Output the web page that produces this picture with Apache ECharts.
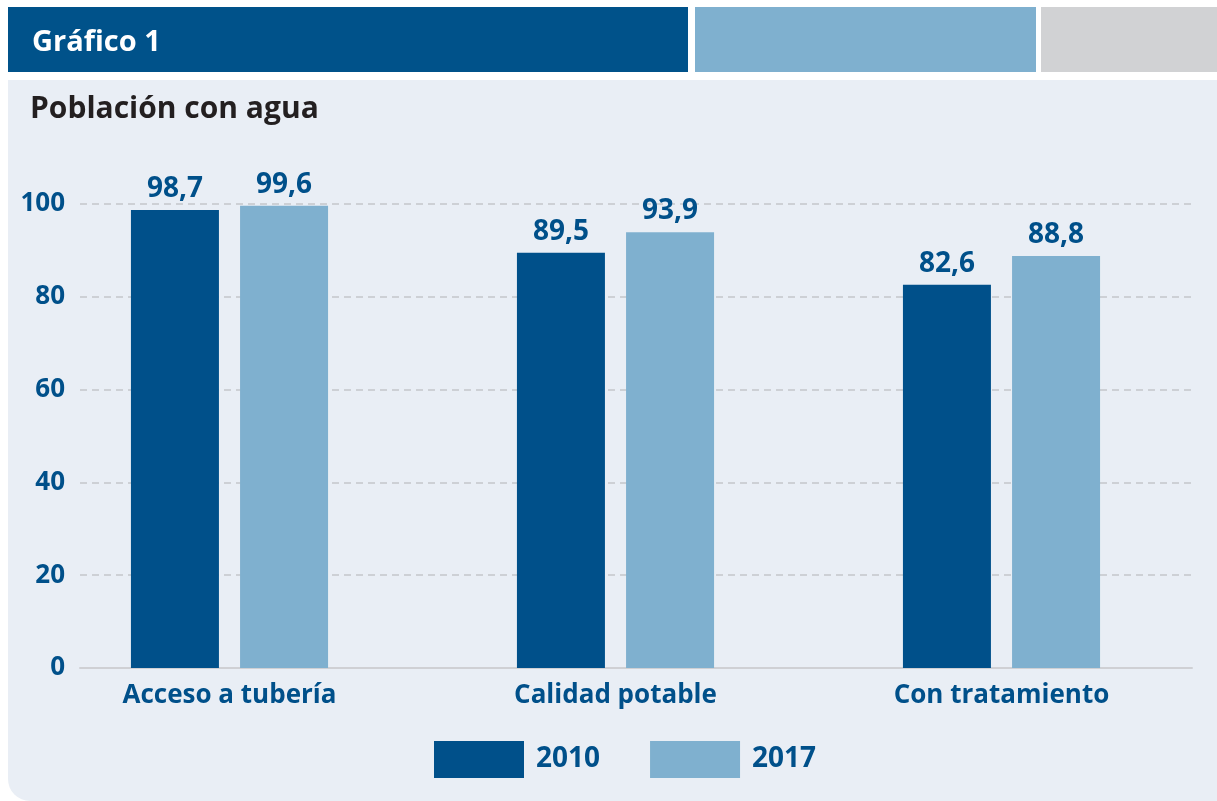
<!DOCTYPE html>
<html>
<head>
<meta charset="utf-8">
<script src="https://cdn.jsdelivr.net/npm/echarts@6/dist/echarts.min.js"></script>
<style>
  html, body { margin: 0; padding: 0; background: #fff; }
  #chart { width: 1217px; height: 801px; }
</style>
</head>
<body>
<div id="chart"></div>
<script>
// datos del gráfico
var categorias = ["Acceso a tubería", "Calidad potable", "Con tratamiento"];
var serie2010 = [98.7, 89.5, 82.6];
var serie2017 = [99.6, 93.9, 88.8];
var ticksY = [0, 20, 40, 60, 80, 100];

var azulOscuro = "#00508a";
var azulClaro = "#7fb0cf";
var fuente = "Open Sans";

var myChart = echarts.init(document.getElementById("chart"));

function etiqueta(p) {
  return String(p.value).replace(".", ",");
}

var option = {
  animation: false,
  backgroundColor: "#ffffff",
  textStyle: { fontFamily: fuente },
  graphic: [
    // barra de cabecera
    { type: "rect", shape: { x: 8, y: 7, width: 680, height: 65 }, style: { fill: "#00528a" }, z: -10 },
    { type: "rect", shape: { x: 695, y: 7, width: 341, height: 65 }, style: { fill: "#7fb0cf" }, z: -10 },
    { type: "rect", shape: { x: 1041, y: 7, width: 176, height: 65 }, style: { fill: "#d1d2d4" }, z: -10 },
    // panel de fondo
    { type: "rect", shape: { x: 8, y: 80, width: 1209, height: 721, r: [0, 0, 0, 22] }, style: { fill: "#e9eef5" }, z: -10 }
  ],
  title: [
    {
      text: "Gráfico 1",
      left: 27, top: 23,
      textStyle: { color: "#ffffff", fontSize: 29, fontWeight: "bold", fontFamily: fuente }
    },
    {
      text: "Población con agua",
      left: 25, top: 89,
      textStyle: { color: "#231f20", fontSize: 30, fontWeight: "bold", fontFamily: fuente }
    }
  ],
  legend: {
    data: ["2010", "2017"],
    left: 429, top: 736,
    itemWidth: 90, itemHeight: 37, itemGap: 50,
    icon: "rect",
    textStyle: { color: azulOscuro, fontSize: 28, fontWeight: "bold", fontFamily: fuente, padding: [0, 0, 0, 7] }
  },
  grid: [
    { left: 80, right: 25, top: 204, bottom: 133 },
    { left: 36.5, right: 22.5, top: 204, bottom: 133 }
  ],
  xAxis: [
    {
      gridIndex: 0, type: "category", data: categorias,
      axisLine: { show: true, lineStyle: { color: "#cfd0d4", width: 2 } },
      axisTick: { show: false }, axisLabel: { show: false }
    },
    {
      gridIndex: 1, type: "category", data: categorias,
      axisLine: { show: false }, axisTick: { show: false },
      axisLabel: { color: azulOscuro, fontSize: 26, fontWeight: "bold", fontFamily: fuente, margin: 15 }
    }
  ],
  yAxis: [
    {
      gridIndex: 0, type: "value", min: ticksY[0], max: ticksY[ticksY.length - 1], interval: 20,
      axisLine: { show: false }, axisTick: { show: false },
      axisLabel: { color: azulOscuro, fontSize: 26, fontWeight: "bold", fontFamily: fuente, margin: 15 },
      splitLine: { show: true, lineStyle: { color: "#cdd0d5", width: 2, type: [7, 5] } }
    },
    {
      gridIndex: 1, type: "value", min: ticksY[0], max: ticksY[ticksY.length - 1], interval: 20,
      show: false, splitLine: { show: false }
    }
  ],
  series: [
    {
      name: "2010", type: "bar", xAxisIndex: 1, yAxisIndex: 1,
      data: serie2010, barWidth: 88, barGap: "24%",
      itemStyle: { color: azulOscuro },
      label: { show: true, position: "top", distance: 7, formatter: etiqueta,
        color: azulOscuro, fontSize: 28, fontWeight: "bold", fontFamily: fuente }
    },
    {
      name: "2017", type: "bar", xAxisIndex: 1, yAxisIndex: 1,
      data: serie2017, barWidth: 88, barGap: "24%",
      itemStyle: { color: azulClaro },
      label: { show: true, position: "top", distance: 7, formatter: etiqueta,
        color: azulOscuro, fontSize: 28, fontWeight: "bold", fontFamily: fuente }
    }
  ]
};

myChart.setOption(option);
</script>
</body>
</html>
